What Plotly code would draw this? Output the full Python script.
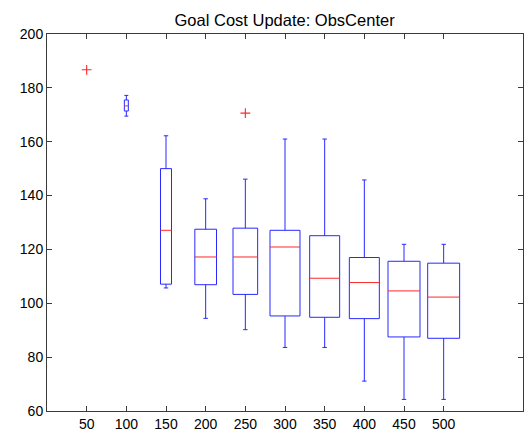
import plotly.graph_objects as go

# Goal cost per update interval (box statistics)
positions = [100, 150, 200, 250, 300, 350, 400, 450, 500]
upper_whisker = [177.2, 162.2, 138.8, 146.1, 161.0, 161.0, 145.8, 121.9, 121.9]
q3_vals = [175.5, 150.0, 127.5, 127.9, 127.1, 125.1, 117.0, 115.6, 114.9]
median_vals = [173.3, 127.1, 117.2, 117.2, 120.9, 109.3, 107.7, 104.6, 102.3]
q1_vals = [171.4, 107.1, 106.9, 103.3, 95.3, 94.8, 94.3, 87.5, 87.0]
lower_whisker = [169.5, 105.7, 94.4, 90.2, 83.6, 83.6, 71.1, 64.3, 64.3]

# Outlying samples
outlier_x = [50, 250]
outlier_y = [186.7, 170.6]

x_ticks = [50, 100, 150, 200, 250, 300, 350, 400, 450, 500]
y_ticks = [60, 80, 100, 120, 140, 160, 180, 200]

# Box widths in x-axis units (variable width display)
box_widths = [5, 13.9, 27.3, 31.1, 37.8, 37.8, 37.8, 40.3, 40.3]
CAP_HALF = 2.8  # half length of whisker end caps, x-axis units

BLUE = "rgb(40,40,255)"
RED = "rgb(255,40,40)"

# Box outlines, whiskers and caps as one blue line trace
bx, by = [], []
for pos, lo, q1, q3, hi, w in zip(positions, lower_whisker, q1_vals, q3_vals,
                                  upper_whisker, box_widths):
    x0, x1 = pos - w / 2, pos + w / 2
    bx += [x0, x1, x1, x0, x0, None]
    by += [q1, q1, q3, q3, q1, None]
    bx += [pos, pos, None, pos, pos, None]
    by += [q3, hi, None, q1, lo, None]
    c = min(CAP_HALF, w / 2)
    bx += [pos - c, pos + c, None, pos - c, pos + c, None]
    by += [hi, hi, None, lo, lo, None]

fig = go.Figure()
fig.add_trace(go.Scatter(
    x=bx, y=by, mode="lines",
    line=dict(color=BLUE, width=1),
    showlegend=False, hoverinfo="skip",
))

# Red median bars spanning each box
med_x, med_y = [], []
for pos, m, w in zip(positions, median_vals, box_widths):
    med_x += [pos - w / 2, pos + w / 2, None]
    med_y += [m, m, None]
fig.add_trace(go.Scatter(
    x=med_x, y=med_y, mode="lines",
    line=dict(color=RED, width=1),
    showlegend=False, hoverinfo="skip",
))

fig.add_trace(go.Scatter(
    x=outlier_x, y=outlier_y, mode="markers",
    marker=dict(symbol="cross-thin", size=7, line=dict(color=RED, width=1.1)),
    showlegend=False, hoverinfo="skip",
))

axis_common = dict(
    showline=True, linecolor="#3a3a3a", linewidth=1, mirror="ticks",
    ticks="inside", ticklen=5, tickcolor="#3a3a3a", tickwidth=1,
    showgrid=False, zeroline=False,
    tickfont=dict(family="Liberation Sans, Arial, sans-serif", size=14, color="black"),
)

fig.update_layout(
    width=528, height=439,
    margin=dict(l=47, r=5, t=34, b=28),
    paper_bgcolor="white", plot_bgcolor="white",
    title=dict(
        text="Goal Cost Update: ObsCenter",
        x=0.539, xanchor="center", y=0.953, yanchor="middle",
        font=dict(family="Liberation Sans, Arial, sans-serif", size=16.5, color="black"),
    ),
    xaxis=dict(range=[0, 600], tickvals=x_ticks, ticktext=[str(t) for t in x_ticks], **axis_common),
    yaxis=dict(range=[60, 200], tickvals=y_ticks, **axis_common),
)

fig.write_html("out.html")
